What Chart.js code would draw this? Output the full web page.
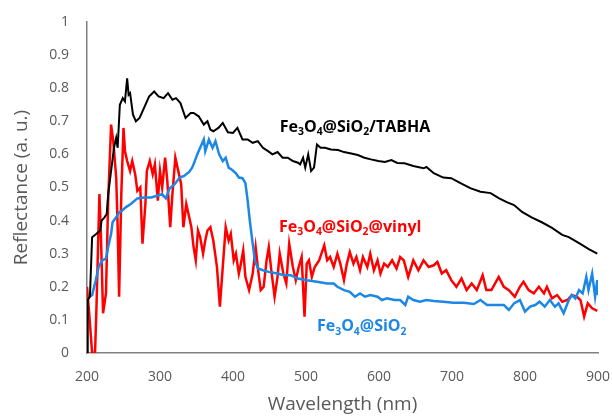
<!DOCTYPE html>
<html>
<head>
<meta charset="utf-8">
<script src="https://cdn.jsdelivr.net/npm/chart.js@4.4.1/dist/chart.umd.min.js"></script>
<style>
  body { margin: 0; background: #fff; }
</style>
</head>
<body>
<canvas id="reflChart" width="612" height="417"></canvas>
<script>
// Fe3O4@SiO2/TABHA (black)
const tabhaNm = [200, 201, 204, 207, 213, 218, 220, 224, 227, 229, 233, 237, 240, 242, 245, 249, 252, 255, 257, 259, 263, 267, 272, 278, 285, 292, 298, 305, 311, 317, 322, 328, 335, 342, 346, 353, 360, 365, 369, 373, 380, 386, 393, 400, 406, 413, 420, 427, 434, 441, 448, 454, 461, 468, 475, 482, 489, 492, 496, 499, 503, 507, 511, 515, 520, 526, 534, 544, 552, 562, 571, 580, 589, 599, 608, 617, 625, 635, 647, 661, 665, 675, 688, 699, 711, 725, 739, 753, 764, 775, 785, 796, 809, 823, 837, 851, 860, 874, 888, 899];
const tabhaR = [0.0, 0.16, 0.17, 0.35, 0.36, 0.37, 0.40, 0.41, 0.42, 0.48, 0.55, 0.62, 0.65, 0.62, 0.75, 0.77, 0.76, 0.83, 0.78, 0.785, 0.72, 0.70, 0.71, 0.74, 0.775, 0.79, 0.775, 0.77, 0.785, 0.765, 0.77, 0.755, 0.71, 0.725, 0.725, 0.715, 0.69, 0.70, 0.675, 0.67, 0.68, 0.695, 0.667, 0.665, 0.68, 0.645, 0.645, 0.635, 0.64, 0.62, 0.61, 0.60, 0.607, 0.59, 0.59, 0.58, 0.575, 0.57, 0.59, 0.56, 0.60, 0.55, 0.56, 0.63, 0.62, 0.62, 0.615, 0.613, 0.607, 0.603, 0.598, 0.59, 0.585, 0.58, 0.577, 0.583, 0.574, 0.573, 0.565, 0.558, 0.562, 0.543, 0.53, 0.528, 0.514, 0.498, 0.487, 0.483, 0.468, 0.456, 0.447, 0.426, 0.41, 0.395, 0.378, 0.357, 0.35, 0.332, 0.313, 0.30];

// Fe3O4@SiO2@vinyl (red)
const vinylNm = [200, 203, 205, 207, 211, 213, 217, 219, 222, 226, 229, 233, 236, 240, 242, 244, 247, 250, 252, 255, 259, 262, 266, 269, 273, 276, 280, 282, 286, 290, 293, 297, 300, 303, 307, 310, 314, 317, 321, 324, 329, 332, 336, 340, 343, 346, 349, 352, 355, 359, 362, 365, 369, 373, 378, 382, 386, 390, 394, 397, 401, 404, 408, 410, 414, 417, 422, 427, 431, 435, 438, 442, 446, 449, 453, 457, 461, 464, 469, 473, 477, 482, 486, 490, 494, 498, 501, 504, 508, 512, 518, 525, 529, 533, 538, 543, 547, 552, 556, 560, 565, 569, 574, 578, 584, 588, 593, 598, 602, 607, 612, 618, 624, 629, 634, 640, 647, 654, 661, 668, 675, 680, 686, 692, 699, 706, 713, 720, 727, 734, 742, 747, 754, 764, 771, 778, 786, 793, 798, 805, 812, 819, 826, 830, 837, 844, 851, 858, 864, 871, 876, 881, 886, 892, 899];
const vinylR = [0.20, 0.12, 0.06, 0.0, 0.0, 0.14, 0.48, 0.36, 0.12, 0.18, 0.46, 0.69, 0.64, 0.53, 0.38, 0.17, 0.48, 0.68, 0.61, 0.58, 0.55, 0.58, 0.54, 0.49, 0.50, 0.33, 0.45, 0.55, 0.58, 0.54, 0.57, 0.46, 0.55, 0.50, 0.59, 0.52, 0.38, 0.48, 0.59, 0.56, 0.51, 0.38, 0.45, 0.41, 0.38, 0.32, 0.28, 0.37, 0.35, 0.30, 0.34, 0.37, 0.38, 0.34, 0.26, 0.14, 0.26, 0.38, 0.34, 0.36, 0.28, 0.30, 0.24, 0.26, 0.31, 0.23, 0.19, 0.24, 0.32, 0.24, 0.19, 0.20, 0.28, 0.32, 0.24, 0.17, 0.23, 0.30, 0.24, 0.21, 0.33, 0.26, 0.22, 0.26, 0.29, 0.11, 0.27, 0.28, 0.23, 0.26, 0.28, 0.325, 0.28, 0.29, 0.26, 0.30, 0.27, 0.22, 0.27, 0.305, 0.27, 0.29, 0.25, 0.29, 0.26, 0.30, 0.25, 0.28, 0.24, 0.27, 0.26, 0.28, 0.255, 0.29, 0.28, 0.23, 0.28, 0.25, 0.28, 0.26, 0.265, 0.275, 0.24, 0.25, 0.22, 0.20, 0.225, 0.19, 0.21, 0.19, 0.235, 0.19, 0.19, 0.23, 0.20, 0.19, 0.17, 0.20, 0.215, 0.19, 0.18, 0.20, 0.18, 0.20, 0.165, 0.175, 0.155, 0.16, 0.175, 0.17, 0.16, 0.11, 0.15, 0.135, 0.127];

// Fe3O4@SiO2 (blue)
const silicaNm = [203, 207, 212, 216, 221, 226, 229, 233, 235, 240, 244, 248, 253, 260, 269, 278, 288, 297, 303, 308, 313, 320, 327, 333, 340, 344, 346, 351, 355, 360, 362, 367, 372, 376, 381, 386, 390, 394, 399, 404, 408, 413, 417, 420, 423, 427, 430, 434, 441, 449, 461, 470, 479, 489, 501, 515, 529, 538, 543, 552, 560, 567, 574, 581, 588, 598, 604, 611, 621, 629, 636, 640, 647, 656, 665, 675, 688, 702, 716, 730, 739, 748, 760, 771, 778, 785, 793, 800, 807, 814, 820, 827, 834, 841, 846, 853, 860, 864, 869, 874, 879, 884, 887, 892, 896, 899, 900];
const silicaR = [0.17, 0.175, 0.22, 0.26, 0.28, 0.285, 0.32, 0.36, 0.395, 0.41, 0.425, 0.43, 0.44, 0.45, 0.467, 0.47, 0.47, 0.476, 0.48, 0.467, 0.497, 0.51, 0.53, 0.535, 0.547, 0.56, 0.57, 0.60, 0.62, 0.645, 0.61, 0.645, 0.62, 0.64, 0.60, 0.58, 0.59, 0.56, 0.553, 0.543, 0.53, 0.528, 0.513, 0.462, 0.40, 0.33, 0.28, 0.256, 0.25, 0.245, 0.24, 0.235, 0.235, 0.225, 0.22, 0.215, 0.21, 0.21, 0.20, 0.19, 0.185, 0.17, 0.18, 0.17, 0.175, 0.17, 0.16, 0.165, 0.16, 0.16, 0.145, 0.17, 0.16, 0.155, 0.16, 0.157, 0.155, 0.152, 0.152, 0.148, 0.16, 0.145, 0.145, 0.145, 0.13, 0.15, 0.16, 0.125, 0.14, 0.145, 0.155, 0.14, 0.16, 0.14, 0.15, 0.12, 0.16, 0.175, 0.165, 0.19, 0.18, 0.23, 0.19, 0.24, 0.17, 0.22, 0.175];

const xTicks = [200, 300, 400, 500, 600, 700, 800, 900];
const yTicks = [0, 0.1, 0.2, 0.3, 0.4, 0.5, 0.6, 0.7, 0.8, 0.9, 1];

// in-plot labels: odd parts are subscripts, anchor is (nm, reflectance) of the baseline start
const seriesLabels = [
    { parts: ['Fe', '3', 'O', '4', '@SiO', '2', '/TABHA'], at: [464, 0.668], color: '#000000' },
    { parts: ['Fe', '3', 'O', '4', '@SiO', '2', '@vinyl'], at: [463, 0.366], color: '#ff0000' },
    { parts: ['Fe', '3', 'O', '4', '@SiO', '2'], at: [515, 0.066], color: '#1c87e5' }
];

function toPoints(xs, ys) {
    return xs.map((x, i) => ({ x: x, y: ys[i] }));
}

const labelPlugin = {
    id: 'seriesLabels',
    afterDatasetsDraw(chart) {
        const ctx = chart.ctx;
        const xs = chart.scales.x, ys = chart.scales.y;
        const size = 16;
        ctx.save();
        ctx.textBaseline = 'alphabetic';
        seriesLabels.forEach(lbl => {
            let px = xs.getPixelForValue(lbl.at[0]);
            const py = ys.getPixelForValue(lbl.at[1]);
            ctx.fillStyle = lbl.color;
            lbl.parts.forEach((part, i) => {
                const sub = i % 2 === 1;
                ctx.font = 'bold ' + (sub ? size * 0.65 : size) + 'px "Open Sans"';
                ctx.fillText(part, px, sub ? py + size * 0.22 : py);
                px += ctx.measureText(part).width;
            });
        });
        ctx.restore();
    }
};

const axisColor = '#595959';
const ctx = document.getElementById('reflChart').getContext('2d');
new Chart(ctx, {
    type: 'line',
    data: {
        datasets: [
            {
                label: 'Fe3O4@SiO2@vinyl',
                data: toPoints(vinylNm, vinylR),
                borderColor: '#ff0000',
                borderWidth: 2.5,
                order: 3
            },
            {
                label: 'Fe3O4@SiO2',
                data: toPoints(silicaNm, silicaR),
                borderColor: '#1c87e5',
                borderWidth: 2.5,
                order: 2
            },
            {
                label: 'Fe3O4@SiO2/TABHA',
                data: toPoints(tabhaNm, tabhaR),
                borderColor: '#000000',
                borderWidth: 2,
                order: 1
            }
        ]
    },
    options: {
        responsive: false,
        animation: false,
        layout: { padding: { top: 22, right: 14, left: 0, bottom: 0 } },
        elements: {
            point: { radius: 0 },
            line: { tension: 0, fill: false }
        },
        plugins: {
            legend: { display: false },
            tooltip: { enabled: false }
        },
        scales: {
            x: {
                type: 'linear',
                min: 200,
                max: 900,
                afterBuildTicks: scale => { scale.ticks = xTicks.map(v => ({ value: v })); },
                afterFit: scale => {
                    scale.height = 64;
                    scale.paddingLeft = 0;
                    scale.paddingRight = 0;
                },
                grid: { display: false, drawTicks: false, tickLength: 0 },
                border: { display: true, color: '#808080', width: 1.5 },
                ticks: {
                    color: axisColor,
                    padding: 16,
                    maxRotation: 0,
                    font: { family: 'Open Sans', size: 14 }
                },
                title: {
                    display: true,
                    text: 'Wavelength (nm)',
                    color: axisColor,
                    padding: { top: 0, bottom: 1 },
                    font: { family: 'Open Sans', size: 19 }
                }
            },
            y: {
                min: 0,
                max: 1,
                afterBuildTicks: scale => { scale.ticks = yTicks.map(v => ({ value: v })); },
                afterFit: scale => {
                    scale.width = 87;
                    scale.paddingTop = 0;
                    scale.paddingBottom = 0;
                },
                grid: { display: false, drawTicks: false, tickLength: 0 },
                border: { display: true, color: '#808080', width: 1.5 },
                ticks: {
                    color: axisColor,
                    padding: 18,
                    callback: v => String(+v.toFixed(1)),
                    font: { family: 'Open Sans', size: 14 }
                },
                title: {
                    display: true,
                    text: 'Reflectance (a. u.)',
                    color: axisColor,
                    padding: { top: 10, bottom: 0 },
                    font: { family: 'Open Sans', size: 19 }
                }
            }
        }
    },
    plugins: [labelPlugin]
});
</script>
</body>
</html>
